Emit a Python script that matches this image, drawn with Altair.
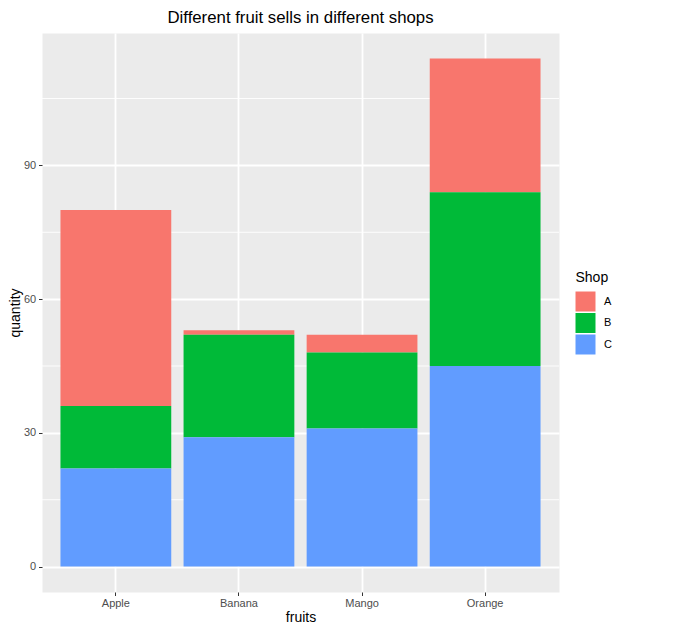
import pandas as pd
import altair as alt

# values
fruits = ['Apple', 'Banana', 'Mango', 'Orange']
shops = ['A', 'B', 'C']
shop_a = [44, 1, 4, 30]
shop_b = [14, 23, 17, 39]
shop_c = [22, 29, 31, 45]
major_ticks = [0, 30, 60, 90]
minor_ticks = [15, 45, 75, 105]

rows = []
for shop, vals in zip(shops, [shop_a, shop_b, shop_c]):
    for fruit, v in zip(fruits, vals):
        rows.append({'fruits': fruit, 'Shop': shop, 'quantity': v,
                     'rank': 2 - shops.index(shop)})
df = pd.DataFrame(rows)
df_minor = pd.DataFrame({'v': minor_ticks})

FONT = 'Liberation Sans'
W, H = 517, 559

y_scale = alt.Scale(domain=[-5.7, 119.7], nice=False, zero=False)
color_scale = alt.Scale(domain=shops, range=['#F8766D', '#00BA38', '#619CFF'])

# minor grid lines (ggplot style)
minor = alt.Chart(df_minor).mark_rule(color='white', strokeWidth=0.9).encode(
    y=alt.Y('v:Q', scale=y_scale, title='quantity')
)

bars = alt.Chart(df).mark_bar().encode(
    x=alt.X('fruits:N', sort=fruits,
            scale=alt.Scale(paddingInner=0.1, paddingOuter=0.15),
            axis=alt.Axis(labelAngle=0, grid=True, bandPosition=0.5,
                          labelPadding=1.5, titleX=W / 2, titleY=29.7,
                          titleBaseline='alphabetic')),
    y=alt.Y('quantity:Q', stack='zero', scale=y_scale, title='quantity',
            axis=alt.Axis(values=major_ticks, labelPadding=2.8, titlePadding=0.5)),
    color=alt.Color('Shop:N', scale=color_scale,
                    legend=alt.Legend(orient='none', legendX=533.5, legendY=237.5,
                                      symbolType='square', symbolSize=400,
                                      symbolStrokeWidth=0, rowPadding=1.5,
                                      labelOffset=8.5, titlePadding=7, padding=0)),
    order=alt.Order('rank:Q')
)

chart = alt.layer(minor, bars).properties(
    width=W,
    height=H,
    autosize=alt.AutoSizeParams(type='none'),
    padding={'left': 34, 'top': 25, 'right': 116, 'bottom': 35},
    title=alt.Title('Different fruit sells in different shops', fontSize=16.8,
                    font=FONT, fontWeight='normal', color='black',
                    anchor='middle', offset=6.5)
).configure_view(
    fill='#EBEBEB', stroke='transparent'
).configure_axis(
    domain=False, gridColor='white', gridWidth=1.8,
    tickColor='#333333', tickSize=3.5, tickWidth=1,
    labelColor='#4D4D4D', labelFontSize=11, labelFont=FONT,
    titleFont=FONT, titleFontSize=14, titleFontWeight='normal', titleColor='black'
).configure_legend(
    titleFont=FONT, titleFontSize=14, titleFontWeight='normal', titleColor='black',
    labelFont=FONT, labelFontSize=11, labelColor='black'
)

chart.save("out.html", embed_options={"renderer": "svg", "actions": False})
